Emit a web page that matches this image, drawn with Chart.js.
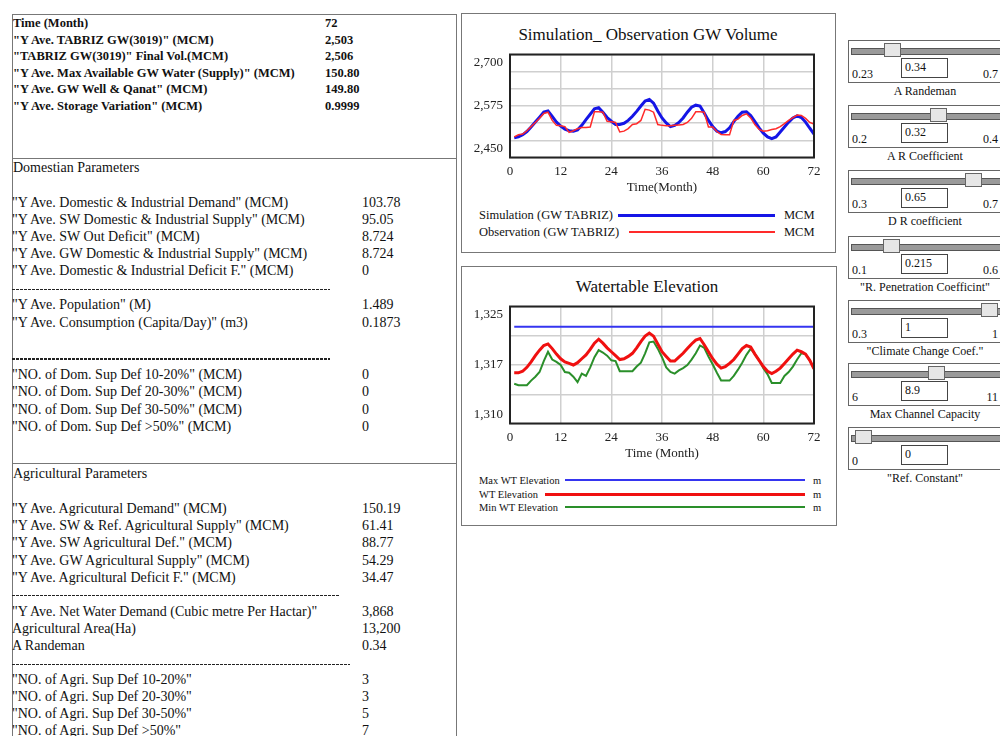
<!DOCTYPE html>
<html>
<head>
<meta charset="utf-8">
<script src="https://cdn.jsdelivr.net/npm/chart.js@4.4.0/dist/chart.umd.min.js"></script>
<style>
  body { margin: 0; width: 1000px; height: 736px; overflow: hidden; background: #fff;
         font-family: 'Liberation Serif', 'Times New Roman', serif; color: #111; position: relative; }
  .abs { position: absolute; white-space: nowrap; }
  .box { position: absolute; border: 1px solid #777; box-sizing: border-box; }
  .dash { position: absolute; height: 1px; background: repeating-linear-gradient(to right, #222 0 3px, transparent 3px 4px); }
  .row { position: absolute; white-space: nowrap; line-height: 16px; }
  .title { position: absolute; font-size: 17px; transform: translate(-50%, -50%); white-space: nowrap; }
  .leg { position: absolute; white-space: nowrap; transform: translateY(-50%); }
  .legline { position: absolute; }
  .slbox { position: absolute; left: 848px; width: 170px; height: 43px; border: 1px solid #666; box-sizing: border-box; }
  .track { position: absolute; left: 2px; right: 0; top: 7px; height: 5px; background: #9a9a9a; border: 1px solid #555; }
  .thumb { position: absolute; top: 2px; width: 17px; height: 14px; background: #e6e6e6; border: 1px solid #666; box-sizing: border-box; }
  .valbox { position: absolute; left: 52px; top: 17px; width: 47px; height: 20px; border: 1px solid #444; box-sizing: border-box;
            font-size: 12px; padding-left: 3px; line-height: 16px; background: #fff; }
  .slmin { position: absolute; left: 3px; top: 26px; font-size: 12px; }
  .slmax { position: absolute; right: 19px; top: 26px; font-size: 12px; }
  .sllab { position: absolute; font-size: 12px; transform: translateX(-50%); white-space: nowrap; }
</style>
</head>
<body>

<div class="box" style="left:12px; top:14px; width:445px; height:145px;"></div>
<div class="box" style="left:12px; top:158px; width:445px; height:306px;"></div>
<div class="box" style="left:12px; top:463px; width:445px; height:290px;"></div>
<div class="box" style="left:461px; top:13px; width:375px; height:240px;"></div>
<div class="box" style="left:461px; top:266px; width:376px; height:260px;"></div>

<div id="leftText"></div>

<div class="title" style="left:648px; top:35px;">Simulation_ Observation GW Volume</div>
<canvas id="chartGW" class="abs" style="left:462px; top:45px; width:372px; height:150px;"></canvas>
<div id="legendGW"></div>

<div class="title" style="left:647px; top:287px;">Watertable Elevation</div>
<canvas id="chartWT" class="abs" style="left:462px; top:296px; width:372px; height:165px;"></canvas>
<div id="legendWT"></div>

<div id="sliders"></div>

<script>
// ---- data ----
const months = Array.from({ length: 72 }, (_, i) => i + 1);

const gwSimulation = [
  2498, 2500, 2505, 2513, 2524, 2536, 2548, 2560, 2563, 2550, 2536, 2526,
  2519, 2515, 2514, 2517, 2528, 2542, 2555, 2568, 2571, 2560, 2547, 2538,
  2530, 2530, 2533, 2540, 2550, 2562, 2575, 2587, 2591, 2582, 2563, 2546,
  2534, 2525, 2528, 2535, 2546, 2560, 2572, 2577, 2575, 2558, 2540, 2525,
  2514, 2510, 2513, 2522, 2537, 2550, 2560, 2561, 2552, 2537, 2522, 2509,
  2500, 2496, 2500, 2512, 2524, 2536, 2546, 2551, 2547, 2536, 2521, 2507
];
const gwObservation = [
  2500, 2505, 2507, 2515, 2525, 2535, 2545, 2557, 2560, 2540, 2528, 2527,
  2525, 2511, 2515, 2520, 2523, 2523, 2524, 2561, 2561, 2560, 2538, 2537,
  2535, 2512, 2514, 2520, 2530, 2532, 2540, 2567, 2565, 2560, 2530, 2528,
  2527, 2527, 2528, 2529, 2530, 2535, 2545, 2561, 2561, 2560, 2524, 2524,
  2513, 2506, 2505, 2505, 2540, 2543, 2552, 2556, 2546, 2530, 2518, 2514,
  2515, 2518, 2520, 2525, 2532, 2540, 2547, 2553, 2552, 2545, 2535, 2531
];
const wtMax = 1322.4;
const wtElevation = [
  1316.5, 1316.5, 1316.7, 1317.2, 1317.9, 1318.7, 1319.4, 1320.0, 1320.2, 1319.6, 1318.9, 1318.3,
  1317.9, 1317.7, 1317.5, 1317.8, 1318.3, 1318.8, 1319.5, 1320.3, 1320.8, 1320.3, 1319.7, 1319.2,
  1318.7, 1318.2, 1318.3, 1318.6, 1319.0, 1319.7, 1320.5, 1321.2, 1321.6, 1321.2, 1320.2, 1319.2,
  1318.6, 1318.0, 1318.0, 1318.5, 1319.0, 1319.6, 1320.2, 1320.7, 1320.9, 1320.1, 1319.2, 1318.3,
  1317.6, 1317.1, 1317.3, 1317.7, 1318.2, 1318.9, 1319.6, 1320.0, 1319.8, 1318.9, 1318.1, 1317.3,
  1316.7, 1316.4, 1316.7, 1317.1, 1317.7, 1318.3, 1318.9, 1319.4, 1319.2, 1318.9, 1318.1, 1317.0
];
const wtMin = [
  1315.1, 1314.9, 1314.9, 1314.9, 1315.5, 1316.0, 1316.6, 1318.0, 1319.2, 1318.2, 1317.9, 1317.5,
  1316.6, 1316.5, 1316.0, 1315.3, 1316.4, 1316.1, 1317.2, 1318.5, 1319.4, 1319.1, 1318.7, 1318.1,
  1318.0, 1316.7, 1316.7, 1316.7, 1316.7, 1317.3, 1317.8, 1319.0, 1320.4, 1320.5, 1319.6, 1318.5,
  1317.2, 1316.6, 1316.4, 1316.8, 1317.1, 1317.5, 1318.2, 1319.0, 1320.0, 1319.7, 1318.6, 1317.6,
  1316.5, 1315.5, 1315.5, 1315.5, 1316.1, 1316.9, 1317.8, 1318.8, 1319.6, 1318.9, 1318.1, 1317.1,
  1316.3, 1315.2, 1315.2, 1315.2, 1316.1, 1316.6, 1317.3, 1318.2, 1319.0, 1318.9, 1318.1, 1317.0
];

// axis ticks (gridlines) and their labels
const xTicks = [0, 12, 24, 36, 48, 60, 72];
const gwTickValues = [2450, 2491.67, 2533.33, 2575, 2616.67, 2658.33, 2700];
const gwTickLabels = ['2,450', '', '', '2,575', '', '', '2,700'];
const wtTickValues = [1310, 1313.75, 1317.5, 1321.25, 1325];
const wtTickLabels = ['1,310', '', '1,317', '', '1,325'];

// left panel text
const summaryRows = [
  ['Time (Month)', '72'],
  ['"Y Ave. TABRIZ GW(3019)" (MCM)', '2,503'],
  ['"TABRIZ GW(3019)" Final Vol.(MCM)', '2,506'],
  ['"Y Ave. Max Available GW Water (Supply)" (MCM)', '150.80'],
  ['"Y Ave. GW Well & Qanat" (MCM)', '149.80'],
  ['"Y Ave. Storage Variation" (MCM)', '0.9999']
];
const domRows = [
  ['"Y Ave. Domestic & Industrial Demand" (MCM)', '103.78', 203],
  ['"Y Ave. SW Domestic & Industrial Supply" (MCM)', '95.05', 220],
  ['"Y Ave. SW Out Deficit" (MCM)', '8.724', 237],
  ['"Y Ave. GW Domestic & Industrial Supply" (MCM)', '8.724', 254],
  ['"Y Ave. Domestic & Industrial Deficit F." (MCM)', '0', 271],
  ['"Y Ave. Population" (M)', '1.489', 305],
  ['"Y Ave. Consumption (Capita/Day)" (m3)', '0.1873', 323],
  ['"NO. of Dom. Sup Def 10-20%" (MCM)', '0', 375],
  ['"NO. of Dom. Sup Def 20-30%" (MCM)', '0', 392],
  ['"NO. of Dom. Sup Def 30-50%" (MCM)', '0', 410],
  ['"NO. of Dom. Sup Def >50%" (MCM)', '0', 427]
];
const agriRows = [
  ['"Y Ave. Agricutural Demand" (MCM)', '150.19', 509],
  ['"Y Ave. SW & Ref. Agricultural Supply" (MCM)', '61.41', 526],
  ['"Y Ave. SW Agricultural Def." (MCM)', '88.77', 543],
  ['"Y Ave. GW Agricultural Supply" (MCM)', '54.29', 561],
  ['"Y Ave. Agricultural Deficit F." (MCM)', '34.47', 578],
  ['"Y Ave. Net Water Demand (Cubic metre Per Hactar)"', '3,868', 612],
  ['Agricultural Area(Ha)', '13,200', 629],
  ['A Randeman', '0.34', 646],
  ['"NO. of Agri. Sup Def 10-20%"', '3', 680],
  ['"NO. of Agri. Sup Def 20-30%"', '3', 697],
  ['"NO. of Agri. Sup Def 30-50%"', '5', 714],
  ['"NO. of Agri. Sup Def >50%"', '7', 731]
];

// sliders
const sliderNames = ['A Randeman', 'A R Coefficient', 'D R coefficient', '"R. Penetration Coefficint"',
  '"Climate Change Coef."', 'Max Channel Capacity', '"Ref. Constant"'];
const sliderValues = ['0.34', '0.32', '0.65', '0.215', '1', '8.9', '0'];
const sliderMins = [0.23, 0.2, 0.3, 0.1, 0.3, 6, 0];
const sliderMaxs = [0.7, 0.4, 0.7, 0.6, 1, 11, 1];
const sliderMaxText = ['0.7', '0.4', '0.7', '0.6', '1', '11', ''];
const sliderTops = [40, 105, 170, 236, 300, 363, 427];

// ---- left panel ----
let html = '';
summaryRows.forEach((r, i) => {
  const y = 15 + i * 16.6;
  html += `<div class="row" style="left:13px; top:${y}px; font-size:12.5px; font-weight:bold;">${r[0].replace(/&/g, '&amp;')}</div>`;
  html += `<div class="row" style="left:325px; top:${y}px; font-size:12.5px; font-weight:bold;">${r[1]}</div>`;
});
html += `<div class="row" style="left:13px; top:160px; font-size:14px;">Domestian Parameters</div>`;
domRows.concat(agriRows).forEach(r => {
  html += `<div class="row" style="left:12px; top:${r[2] - 8}px; font-size:14px;">${r[0].replace(/&/g, '&amp;').replace(/>/g, '&gt;')}</div>`;
  html += `<div class="row" style="left:362px; top:${r[2] - 8}px; font-size:14px;">${r[1]}</div>`;
});
html += `<div class="row" style="left:13px; top:466px; font-size:14px;">Agricultural Parameters</div>`;
html += `<div class="dash" style="left:12px; top:289px; width:318px;"></div>`;
html += `<div class="dash" style="left:12px; top:358px; width:318px; height:2px;"></div>`;
html += `<div class="dash" style="left:12px; top:595px; width:328px;"></div>`;
html += `<div class="dash" style="left:12px; top:664px; width:338px;"></div>`;
document.getElementById('leftText').innerHTML = html;

// ---- sliders ----
let sh = '';
sliderNames.forEach((name, i) => {
  const frac = (parseFloat(sliderValues[i]) - sliderMins[i]) / (sliderMaxs[i] - sliderMins[i]);
  const thumbLeft = 862 + frac * 126 - 848 - 8.5;
  sh += `<div class="slbox" style="top:${sliderTops[i]}px;">
    <div class="track"></div>
    <div class="thumb" style="left:${thumbLeft}px;"></div>
    <div class="valbox">${sliderValues[i]}</div>
    <div class="slmin">${sliderMins[i]}</div>
    <div class="slmax">${sliderMaxText[i]}</div>
  </div>`;
  sh += `<div class="sllab" style="left:925px; top:${sliderTops[i] + 44}px;">${name}</div>`;
});
document.getElementById('sliders').innerHTML = sh;

// ---- charts ----
Chart.defaults.font.family = "'Liberation Serif', 'Times New Roman', serif";
Chart.defaults.color = '#222';
Chart.defaults.animation = false;

// dark frame around the plot area
const framePlugin = {
  id: 'plotFrame',
  afterDraw(chart) {
    const { ctx, chartArea: a } = chart;
    ctx.save();
    ctx.strokeStyle = '#222';
    ctx.lineWidth = 2;
    ctx.strokeRect(a.left, a.top, a.right - a.left, a.bottom - a.top);
    ctx.restore();
  }
};

function yLabel(labels) {
  // push the top label down and the bottom label up so they stay inside the frame
  return (value, index) => {
    const t = labels[index];
    if (index === 0) return [t, ''];
    if (index === labels.length - 1) return ['', t];
    return t;
  };
}

function createLineChart(ctx, datasets, tickValues, tickLabels, xTitle, topPad) {
  new Chart(ctx, {
    type: 'line',
    data: { datasets: datasets },
    options: {
      responsive: false,
      layout: { padding: { top: topPad, right: 20, left: 0, bottom: 0 } },
      plugins: { legend: { display: false }, tooltip: { enabled: false } },
      elements: { point: { radius: 0 }, line: { tension: 0 } },
      scales: {
        x: {
          type: 'linear', min: 0, max: 72,
          afterBuildTicks: s => { s.ticks = xTicks.map(v => ({ value: v })); },
          afterFit: s => { s.height = 37.5; s.paddingLeft = 0; s.paddingRight = 0; },
          grid: { color: '#cfcfcf', drawTicks: false, lineWidth: 1.5 },
          border: { display: false },
          ticks: { font: { size: 13 }, padding: 6, autoSkip: false, maxRotation: 0 },
          title: { display: true, text: xTitle, font: { size: 13 }, padding: 0 }
        },
        y: {
          type: 'linear', min: tickValues[0], max: tickValues[tickValues.length - 1],
          afterBuildTicks: s => { s.ticks = tickValues.map(v => ({ value: v })); },
          afterFit: s => { s.width = 48; s.paddingTop = 0; s.paddingBottom = 0; },
          grid: { color: '#cfcfcf', drawTicks: false, lineWidth: 1.5 },
          border: { display: false },
          ticks: { font: { size: 13, lineHeight: 1.3 }, padding: 7, autoSkip: false, callback: yLabel(tickLabels) }
        }
      }
    },
    plugins: [framePlugin]
  });
}

const gwSets = [
  { label: 'Simulation (GW TABRIZ)', unit: 'MCM', data: months.map((m, i) => ({ x: m, y: gwSimulation[i] })),
    borderColor: '#1515e6', borderWidth: 3 },
  { label: 'Observation (GW TABRIZ)', unit: 'MCM', data: months.map((m, i) => ({ x: m, y: gwObservation[i] })),
    borderColor: '#ff2a2a', borderWidth: 1.5 }
];
const wtSets = [
  { label: 'Max WT Elevation', unit: 'm', data: months.map(m => ({ x: m, y: wtMax })),
    borderColor: '#3535f0', borderWidth: 2 },
  { label: 'WT Elevation', unit: 'm', data: months.map((m, i) => ({ x: m, y: wtElevation[i] })),
    borderColor: '#f01010', borderWidth: 3 },
  { label: 'Min WT Elevation', unit: 'm', data: months.map((m, i) => ({ x: m, y: wtMin[i] })),
    borderColor: '#2a8f2a', borderWidth: 2 }
];

const c1 = document.getElementById('chartGW');
c1.width = 372; c1.height = 150;
createLineChart(c1, gwSets.slice().reverse(), gwTickValues, gwTickLabels, 'Time(Month)', 9.5);

const c2 = document.getElementById('chartWT');
c2.width = 372; c2.height = 165;
createLineChart(c2, wtSets, wtTickValues, wtTickLabels, 'Time (Month)', 10.5);

// legends (label, line, unit)
function buildLegend(id, sets, rowsY, lineStarts, lineEnd, unitX, fontSize) {
  let lh = '';
  sets.forEach((s, i) => {
    lh += `<div class="leg" style="left:479px; top:${rowsY[i]}px; font-size:${fontSize}px;">${s.label}</div>`;
    lh += `<div class="legline" style="left:${lineStarts[i]}px; top:${rowsY[i] - s.borderWidth / 2}px; width:${lineEnd - lineStarts[i]}px; height:${s.borderWidth}px; background:${s.borderColor};"></div>`;
    lh += `<div class="leg" style="left:${unitX}px; top:${rowsY[i]}px; font-size:${fontSize}px;">${s.unit}</div>`;
  });
  document.getElementById(id).innerHTML = lh;
}
buildLegend('legendGW', gwSets, [215, 232], [618, 629], 775, 784, 12.5);
buildLegend('legendWT', wtSets, [480, 494, 507], [565, 545, 565], 805, 813, 10.5);
</script>
</body>
</html>
